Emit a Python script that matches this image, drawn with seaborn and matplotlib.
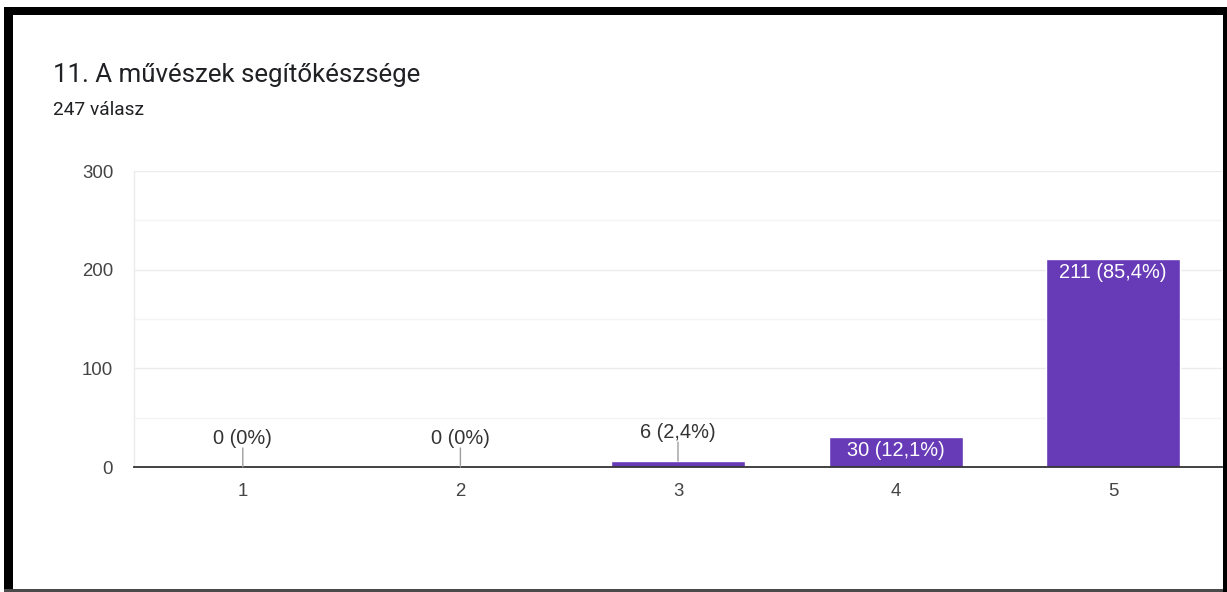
import matplotlib
matplotlib.use("Agg")
import matplotlib.pyplot as plt
from matplotlib.patches import Rectangle
import seaborn as sns
import pandas as pd

# Survey results: rating scale 1-5
categories = ["1", "2", "3", "4", "5"]
counts = [0, 0, 6, 30, 211]
labels = ["0 (0%)", "0 (0%)", "6 (2,4%)", "30 (12,1%)", "211 (85,4%)"]
y_ticks = [0, 100, 200, 300]
title = "11. A művészek segítőkészsége"
subtitle = "247 válasz"

BAR = "#673ab7"
W, H, DPI = 1227, 592, 100

sns.set_theme(style="white")
plt.rcParams["font.family"] = ["Liberation Sans", "DejaVu Sans"]

fig = plt.figure(figsize=(W / DPI, H / DPI), dpi=DPI)
fig.patch.set_facecolor("white")

ax = fig.add_axes([134 / W, 1 - 467 / H, (1222 - 134) / W, (467 - 171) / H])

df = pd.DataFrame({"rating": categories, "count": counts})
sns.barplot(data=df, x="rating", y="count", color=BAR, saturation=1,
            width=0.616, ax=ax, zorder=3)

ax.set_xlim(-0.5, len(categories) - 0.5)
ax.set_ylim(0, 300)
ax.set_yticks(y_ticks)
ax.set_yticks([50, 150, 250], minor=True)
ax.grid(axis="y", which="major", color="#ebebeb", lw=1, zorder=0)
ax.grid(axis="y", which="minor", color="#f4f4f4", lw=1, zorder=0)
ax.set_xlabel("")
ax.set_ylabel("")
for s in ("top", "right"):
    ax.spines[s].set_visible(False)
ax.spines["left"].set_color("#ebebeb")
ax.spines["left"].set_linewidth(1)
ax.spines["bottom"].set_color("#333333")
ax.spines["bottom"].set_linewidth(1.3)
ax.spines["bottom"].set_zorder(5)
ax.tick_params(axis="y", which="both", length=0, pad=15, labelsize=13.4, labelcolor="#444444")
ax.tick_params(axis="x", length=0, pad=11.5, labelsize=13.4, labelcolor="#444444")

# Value labels: inside tall bars, above short ones with a leader line
for i, (v, lab) in enumerate(zip(counts, labels)):
    if v >= 20:
        ax.annotate(lab, xy=(i, v), xytext=(0, -9.7), textcoords="offset points",
                    ha="center", va="center", color="white", fontsize=14.4, zorder=6)
    else:
        ax.annotate("", xy=(i, v), xytext=(0, 13.7), textcoords="offset points",
                    arrowprops=dict(arrowstyle="-", color="#9e9e9e", lw=1,
                                    shrinkA=0, shrinkB=0), zorder=6)
        ax.annotate(lab, xy=(i, v), xytext=(0, 20.5), textcoords="offset points",
                    ha="center", va="center", color="#333333", fontsize=14.4, zorder=6)

fig.text(53 / W, 1 - 82 / H, title, fontsize=18.6, color="#202124",
         family=["Roboto", "DejaVu Sans"], va="baseline", ha="left")
fig.text(53 / W, 1 - 115 / H, subtitle, fontsize=13.8, color="#202124",
         family=["Roboto", "DejaVu Sans"], va="baseline", ha="left")

# Frame around the card
def band(x0, y0, x1, y1, color):
    fig.patches.append(Rectangle((x0 / W, 1 - y1 / H), (x1 - x0) / W, (y1 - y0) / H,
                                 transform=fig.transFigure, color=color, lw=0, zorder=10))

band(4, 7, W, 15, "black")
band(4, 7, 13, H, "black")
band(1223, 7, W, H, "black")
band(4, 589, 1223, H, "#4a4a4a")

fig.savefig("out.png", dpi=DPI, facecolor="white")
